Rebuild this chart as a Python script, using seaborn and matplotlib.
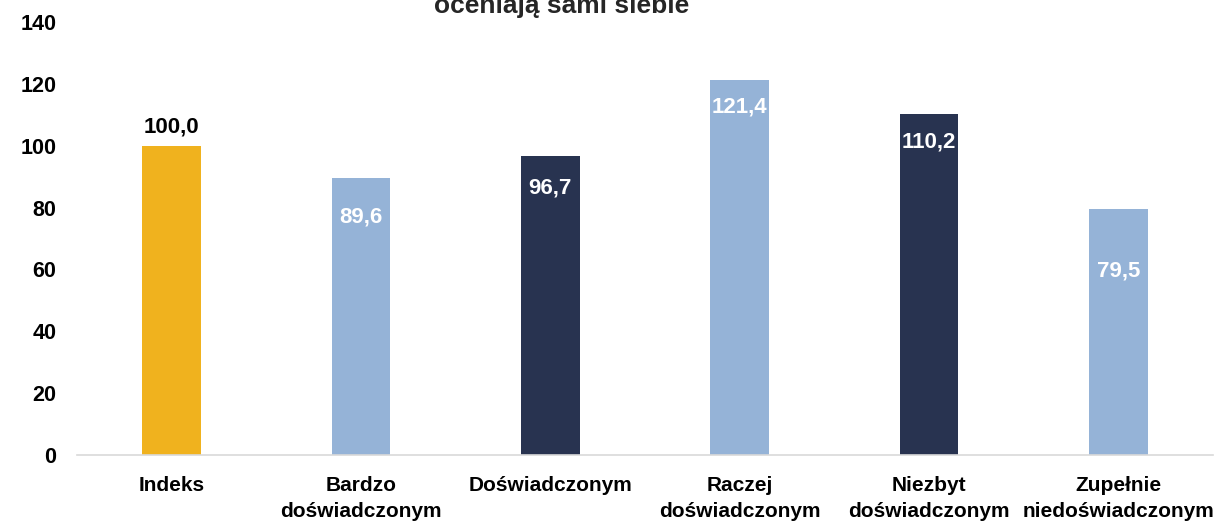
import matplotlib
matplotlib.use('Agg')
import matplotlib.pyplot as plt
import seaborn as sns
import pandas as pd

# dane
kategorie = ['Indeks', 'Bardzo\ndoświadczonym', 'Doświadczonym', 'Raczej\ndoświadczonym',
             'Niezbyt\ndoświadczonym', 'Zupełnie\nniedoświadczonym']
wartosci = [100.0, 89.6, 96.7, 121.4, 110.2, 79.5]
kolory = ['#F0B21E', '#95B3D7', '#283350', '#95B3D7', '#283350', '#95B3D7']

df = pd.DataFrame({'kategoria': kategorie, 'wartosc': wartosci})

sns.set_style('white')
plt.rcParams['font.family'] = ['Liberation Sans', 'DejaVu Sans']
plt.rcParams['font.weight'] = 'bold'

fig = plt.figure(figsize=(12.18, 5.22), dpi=100)
ax = fig.add_axes([77 / 1218, 67 / 522, 1136 / 1218, 433 / 522])

sns.barplot(data=df, x='kategoria', y='wartosc', hue='kategoria',
            palette=kolory, width=0.31, legend=False, ax=ax, saturation=1,
            linewidth=0)

ax.set_ylim(0, 140)
ax.set_yticks(range(0, 141, 20))
ax.set_xlim(-0.5, len(kategorie) - 0.5)
ax.set_xlabel('')
ax.set_ylabel('')
for s in ['top', 'right', 'left']:
    ax.spines[s].set_visible(False)
ax.spines['bottom'].set_color('#D9D9D9')
ax.spines['bottom'].set_linewidth(1.2)
ax.tick_params(axis='both', length=0, colors='black')
ax.tick_params(axis='x', pad=15, labelsize=15)
ax.tick_params(axis='y', pad=15, labelsize=15.5)
for t in ax.get_xticklabels() + ax.get_yticklabels():
    t.set_fontweight('bold')
    t.set_linespacing(1.5)

# etykiety wartości (przesunięcie w dół od wierzchołka słupka, w jednostkach osi)
przesuniecia = [-6, 12.5, 10.5, 9, 9, 20]
for i, (v, d) in enumerate(zip(wartosci, przesuniecia)):
    kolor = 'black' if i == 0 else 'white'
    ax.text(i, v - d, f'{v:.1f}'.replace('.', ','), ha='center', va='center',
            fontsize=16, fontweight='bold', color=kolor)

fig.text(562 / 1218, 1 - 6 / 522, 'oceniają sami siebie', ha='center', va='center',
         fontsize=19, fontweight='bold')

fig.savefig('out.png', dpi=100)
